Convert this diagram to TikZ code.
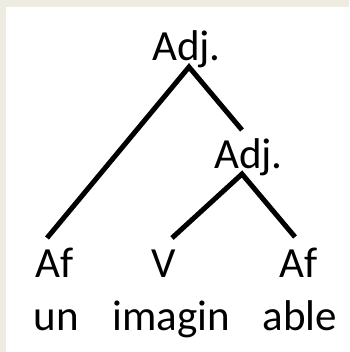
\documentclass[tikz,border=0pt]{standalone}
\usepackage{fontspec}
\setmainfont{Carlito}
\definecolor{framebeige}{HTML}{EEEBE0}
\tikzset{
  lbl/.style={inner sep=0pt,font=\fontsize{43}{50}\selectfont,anchor=base},
  branch/.style={line width=5pt}
}
\begin{document}
\begin{tikzpicture}[x=1pt,y=-1pt]
  % frame
  \fill[framebeige] (0,0) rectangle (349,352);
  \fill[white] (6,7) rectangle (349,352);
  \useasboundingbox (0,0) rectangle (349,352);
  % categories
  \node[lbl] (adjT) at (186.5,61) {Adj.};
  \node[lbl] (adjM) at (248.5,168) {Adj.};
  \node[lbl] (afL) at (55,277) {Af};
  \node[lbl] (vM) at (163.5,277) {V};
  \node[lbl] (afR) at (298.5,277) {Af};
  % morphemes
  \node[lbl] (un) at (56.5,330) {un};
  \node[lbl] (imagin) at (171.5,330) {imagin};
  \node[lbl] (able) at (300,330) {able};
  % branches
  \draw[branch] ([xshift=-8pt,yshift=39pt]afL.base) -- ([xshift=2.5pt,yshift=-6pt]adjT.base)
    -- ([xshift=-6.5pt,yshift=38pt]adjM.base);
  \draw[branch] ([xshift=8.5pt,yshift=39pt]vM.base) -- ([xshift=-6.5pt,yshift=-6pt]adjM.base)
    -- ([xshift=-3.5pt,yshift=40pt]afR.base);
\end{tikzpicture}
\end{document}
